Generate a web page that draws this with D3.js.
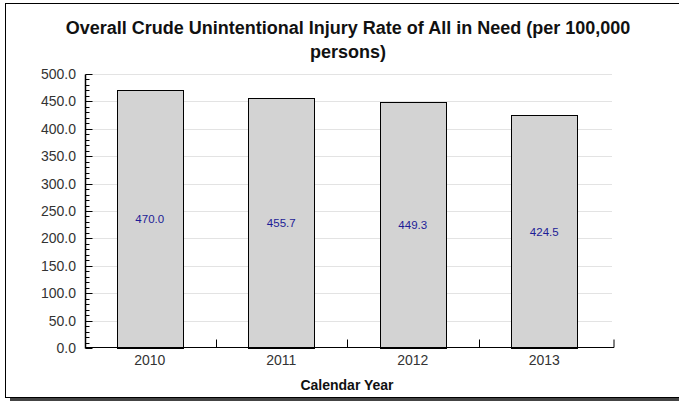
<!DOCTYPE html>
<meta charset="utf-8">
<style>
body { margin: 0; background: #fff; }
text { font-family: "Liberation Sans", Arial, sans-serif; }
</style>
<body>
<script src="https://d3js.org/d3.v7.min.js"></script>
<script>
// chart data
var years = ["2010", "2011", "2012", "2013"];
var rates = [470.0, 455.7, 449.3, 424.5];
var yTicks = [0, 50, 100, 150, 200, 250, 300, 350, 400, 450, 500];
var titleLines = ["Overall Crude Unintentional Injury Rate of All in Need (per 100,000", "persons)"];

var W = 679, H = 401;
var svg = d3.select("body").append("svg")
    .attr("width", W)
    .attr("height", H);

// frame + shadow
svg.append("rect").attr("x", 10).attr("y", 398).attr("width", W).attr("height", 4).attr("fill", "#444");
svg.append("rect")
    .attr("x", 5.5).attr("y", 3.5)
    .attr("width", W).attr("height", 394)
    .attr("fill", "#fff").attr("stroke", "#000");

var pLeft = 85, pRight = 614, pTop = 74, pBottom = 348;

var x = d3.scaleBand().domain(years).range([pLeft - 1, pRight - 4]).paddingInner(0.5).paddingOuter(0.25);
var y = d3.scaleLinear().domain([0, 500]).range([pBottom, pTop]);

// grid
svg.append("g").selectAll("line")
    .data(yTicks.filter(function(d) { return d > 0; }))
  .enter().append("line")
    .attr("x1", pLeft).attr("x2", pRight - 2)
    .attr("y1", function(d) { return Math.round(y(d)) + 0.5; })
    .attr("y2", function(d) { return Math.round(y(d)) + 0.5; })
    .attr("stroke", "#e3e3e3");

// title
svg.append("g").selectAll("text")
    .data(titleLines)
  .enter().append("text")
    .attr("x", 348)
    .attr("y", function(d, i) { return 34 + i * 24; })
    .attr("text-anchor", "middle")
    .attr("font-size", "18px")
    .attr("font-weight", "bold")
    .attr("fill", "#111")
    .text(function(d) { return d; });

// bars
svg.append("g").selectAll("rect")
    .data(rates)
  .enter().append("rect")
    .attr("x", function(d, i) { return Math.round(x(years[i])) + 0.5; })
    .attr("y", function(d) { return Math.round(y(d)) + 0.5; })
    .attr("width", Math.round(x.bandwidth()))
    .attr("height", function(d) { return Math.round(y(0)) - Math.round(y(d)); })
    .attr("fill", "#d3d3d3")
    .attr("stroke", "#000");

// value labels
svg.append("g").selectAll("text")
    .data(rates)
  .enter().append("text")
    .attr("x", function(d, i) { return x(years[i]) + x.bandwidth() / 2; })
    .attr("y", function(d) { return (y(d) + y(0)) / 2 + 4; })
    .attr("text-anchor", "middle")
    .attr("font-size", "11.5px")
    .attr("fill", "#1c1c96")
    .text(function(d) { return d.toFixed(1); });

// y axis
var yAxis = svg.append("g")
    .attr("transform", "translate(" + (pLeft + 0.5) + ",0.5)")
    .call(d3.axisRight(y).tickValues(d3.range(0, 501, 10)).tickSize(4).tickFormat(""));
yAxis.selectAll(".tick line").filter(function(d) { return d % 50 === 0; }).attr("x2", 7);
yAxis.select(".domain").attr("d", "M0," + pTop + "V" + pBottom).attr("stroke-width", 1.5);
yAxis.selectAll(".tick").attr("transform", function(d) { return "translate(0," + Math.round(y(d)) + ")"; });

svg.append("g").selectAll("text")
    .data(yTicks)
  .enter().append("text")
    .attr("x", 76)
    .attr("y", function(d) { return y(d) + 5; })
    .attr("text-anchor", "end")
    .attr("font-size", "14px")
    .attr("fill", "#333")
    .text(function(d) { return d.toFixed(1); });

// x axis
var xAxis = svg.append("g")
    .attr("transform", "translate(0," + (pBottom - 0.5) + ")")
    .call(d3.axisBottom(x).tickSize(0).tickPadding(8));
xAxis.select(".domain").attr("d", "M" + pLeft + ",0H" + pRight + "V-8");
xAxis.selectAll("text").attr("font-size", "14px").attr("fill", "#333").style("font-family", "'Liberation Sans', Arial, sans-serif");
var step = x.step();
xAxis.selectAll(".sep")
    .data(years.slice(1))
  .enter().append("line")
    .attr("x1", function(d) { return Math.round(x(d) - step / 4) + 0.5; })
    .attr("x2", function(d) { return Math.round(x(d) - step / 4) + 0.5; })
    .attr("y1", 0).attr("y2", -8)
    .attr("stroke", "#000");

svg.append("text")
    .attr("x", 347).attr("y", 390)
    .attr("text-anchor", "middle")
    .attr("font-size", "14px")
    .attr("font-weight", "bold")
    .attr("fill", "#111")
    .text("Calendar Year");
</script>
</body>
